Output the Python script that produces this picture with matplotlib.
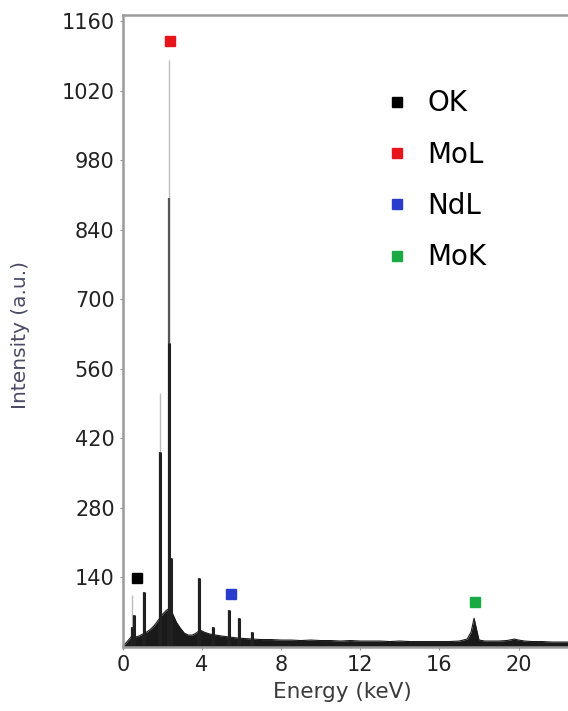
import matplotlib
matplotlib.use("Agg")
import matplotlib.pyplot as plt

# ---- data ----
# continuum (background) of the spectrum, energy in keV, intensity in a.u.
cont_energy = [0.0, 0.15, 0.3, 0.45, 0.6, 0.8, 1.0, 1.2, 1.4, 1.6, 1.8, 2.0, 2.2, 2.35, 2.5,
               2.7, 2.9, 3.1, 3.3, 3.5, 3.7, 3.9, 4.1, 4.4, 4.7, 5.0, 5.4, 5.8, 6.2, 6.6,
               7.0, 7.5, 8.0, 8.5, 9.0, 9.5, 10.0, 10.5, 11.0, 11.5, 12.0, 12.5, 13.0,
               13.5, 14.0, 14.5, 15.0, 15.5, 16.0, 16.5, 17.0, 17.4, 17.6, 17.75, 17.85,
               18.0, 18.3, 18.6, 19.0, 19.4, 19.8, 20.0, 20.3, 20.7, 21.2, 21.7, 22.2, 22.5]
cont_value = [0, 8, 15, 22, 20, 22, 26, 30, 36, 44, 55, 66, 74, 78, 68,
              50, 38, 28, 24, 24, 28, 34, 30, 26, 24, 22, 20, 18, 17, 16,
              15, 15, 14, 14, 13, 14, 13, 13, 12, 13, 12, 12, 12,
              11, 12, 11, 11, 11, 11, 11, 12, 16, 30, 58, 40,
              14, 12, 12, 12, 13, 16, 14, 12, 11, 11, 10, 10, 10]

# characteristic peaks: energy, dark part, medium part, faint top
peak_energy = [0.45, 0.55, 1.08, 1.87, 2.32, 2.42, 3.82, 4.55, 5.35, 5.85, 6.5]
peak_dark   = [40, 64, 111, 393, 612, 180, 139, 40, 75, 58, 30]
peak_mid    = [40, 64, 111, 393, 905, 180, 139, 40, 75, 58, 30]
peak_top    = [105, 64, 111, 511, 1182, 180, 139, 40, 75, 58, 30]

# element markers
elements = ["OK", "MoL", "NdL", "MoK"]
element_colors = ["#000000", "#e8141c", "#2a3ccc", "#1aaa44"]
element_energy = [0.71, 2.37, 5.45, 17.8]
element_intensity = [139, 1221, 107, 91]

x_ticks = [0, 4, 8, 12, 16, 20]
y_tick_pos = [140, 280, 420, 560, 700, 840, 980, 1120, 1260]
y_tick_labels = ["140", "280", "420", "560", "700", "840", "980", "1020", "1160"]

# ---- figure ----
plt.rcParams['font.family'] = ['DejaVu Sans']
fig = plt.figure(figsize=(5.68, 7.11), dpi=100)
ax = fig.add_axes([0.2165, 0.09, 0.7835, 0.889])

ax.fill_between(cont_energy, cont_value, 0, color="#1a1a1a", lw=0)
ax.plot(cont_energy, cont_value, color="#1a1a1a", lw=0.8)

ax.vlines(peak_energy, 0, peak_top, colors="#bdbdbd", lw=1.0)
ax.vlines(peak_energy, 0, peak_mid, colors="#555555", lw=1.6)
ax.vlines(peak_energy, 0, peak_dark, colors="#202020", lw=2.2)

for name, c, e, i in zip(elements, element_colors, element_energy, element_intensity):
    ax.plot([e], [i], marker="s", ms=7, color=c, ls="none", label=name)

ax.set_xlim(0, 22.5)
ax.set_ylim(0, 1273)
ax.set_xticks(x_ticks)
ax.set_xticklabels([str(t) for t in x_ticks])
ax.set_yticks(y_tick_pos)
ax.set_yticklabels(y_tick_labels)
ax.tick_params(axis="both", labelsize=15, length=2, color="#999999", labelcolor="#222222", pad=4)

for s in ["left", "bottom", "top"]:
    ax.spines[s].set_color("#9a9a9a")
    ax.spines[s].set_linewidth(1.8)
ax.spines["right"].set_visible(False)

ax.set_xlabel("Energy (keV)", fontsize=15.5, color="#3a3a3a")
ax.xaxis.set_label_coords(0.494, -0.056)
ax.set_ylabel("Intensity (a.u.)", fontsize=14.5, color="#4a4a66")
ax.yaxis.set_label_coords(-0.21, 0.494)

leg = ax.legend(loc="upper left", bbox_to_anchor=(0.575, 0.90), frameon=False,
                fontsize=20, handlelength=0.5, handletextpad=0.85, labelspacing=0.84,
                markerscale=1.1, borderaxespad=0)

fig.savefig("out.png", dpi=100)
